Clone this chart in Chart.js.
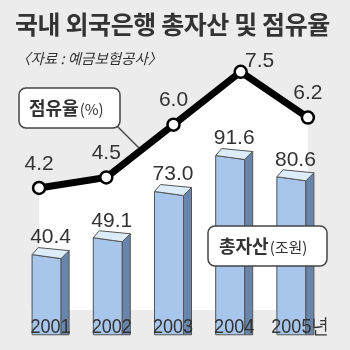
<!DOCTYPE html>
<html>
<head>
<meta charset="utf-8">
<script src="https://cdn.jsdelivr.net/npm/chart.js@4"></script>
<style>
  html, body { margin: 0; padding: 0; background: #ececec; }
  #wrap { position: relative; width: 350px; height: 350px; background: #ececec; }
  #title { position: absolute; left: 15px; top: 5px; font: bold 25px "Noto Sans CJK KR", sans-serif; color: #333; white-space: nowrap; letter-spacing: -0.4px; }
  #source { position: absolute; left: 16px; top: 47px; font: italic 14.5px "Noto Sans CJK KR", sans-serif; color: #333; white-space: nowrap; }
  canvas { position: absolute; left: 0; top: 0; }
</style>
</head>
<body>
<div id="wrap">
  <canvas id="chart" width="350" height="350"></canvas>
  <div id="title">국내 외국은행 총자산 및 점유율</div>
  <div id="source">〈자료 : 예금보험공사〉</div>
</div>
<script>
const years = ['2001', '2002', '2003', '2004', '2005'];
const tickLabels = ['2001', '2002', '2003', '2004', '2005년'];
const assets = [40.4, 49.1, 73.0, 91.6, 80.6];   // 총자산 (조원)
const share = [4.2, 4.5, 6.0, 7.5, 6.2];         // 점유율 (%)

const numFont = '21px "Liberation Sans", Arial, sans-serif';
const textColor = '#333';

// 3D look for the bars
const bar3d = {
    id: 'bar3d',
    afterDatasetDraw(chart, args) {
        if (args.index !== 0) return;
        const ctx = chart.ctx;
        ctx.save();
        ctx.lineWidth = 1;
        ctx.strokeStyle = '#555';
        ctx.lineJoin = 'round';
        args.meta.data.forEach(el => {
            const L = el.x - el.width / 2, R = el.x + el.width / 2;
            const y = el.y, b = el.base;
            const face = (pts, color) => {
                ctx.beginPath();
                pts.forEach((p, i) => i ? ctx.lineTo(p[0], p[1]) : ctx.moveTo(p[0], p[1]));
                ctx.closePath();
                ctx.fillStyle = color;
                ctx.fill();
                ctx.stroke();
            };
            face([[L, y - 2], [R, y + 2], [R, b], [L, b]], '#a8c6ec');
            face([[R, y + 2], [R + 8, y - 6], [R + 8, b], [R, b]], '#6886ad');
            face([[L, y - 2], [L + 6, y - 9], [R + 8, y - 6], [R, y + 2]], '#dcecfa');
        });
        ctx.restore();
    }
};

function roundBox(ctx, x, y, w, h, r) {
    ctx.beginPath();
    ctx.moveTo(x + r, y);
    ctx.arcTo(x + w, y, x + w, y + h, r);
    ctx.arcTo(x + w, y + h, x, y + h, r);
    ctx.arcTo(x, y + h, x, y, r);
    ctx.arcTo(x, y, x + w, y, r);
    ctx.closePath();
    ctx.fillStyle = '#fff';
    ctx.fill();
    ctx.lineWidth = 1.5;
    ctx.strokeStyle = '#444';
    ctx.stroke();
}

function twoPartText(ctx, x, y, main, sub) {
    ctx.textBaseline = 'middle';
    ctx.textAlign = 'left';
    ctx.fillStyle = textColor;
    ctx.font = 'bold 18px "Noto Sans CJK KR", sans-serif';
    ctx.fillText(main, x, y);
    const w = ctx.measureText(main).width;
    ctx.font = '15px "Noto Sans CJK KR", sans-serif';
    ctx.fillText(sub, x + w + 1, y + 1);
}

const labels = {
    id: 'labels',
    afterDraw(chart) {
        const ctx = chart.ctx;
        const barMeta = chart.getDatasetMeta(0);
        const lineMeta = chart.getDatasetMeta(1);
        ctx.save();
        ctx.fillStyle = textColor;
        ctx.font = numFont;
        ctx.textAlign = 'center';
        ctx.textBaseline = 'middle';

        barMeta.data.forEach((el, i) => {
            ctx.fillText(assets[i].toFixed(1), el.x + 4, el.y - 19);
            // year ticks, slightly condensed like the original type
            ctx.save();
            ctx.translate(el.x + 4 + (i === 4 ? 5 : 0), 327);
            ctx.scale(0.86, 1);
            ctx.fillText(tickLabels[i], 0, 0);
            ctx.restore();
        });

        const top = Math.max(...share);
        lineMeta.data.forEach((pt, i) => {
            if (share[i] === top) ctx.fillText(share[i].toFixed(1), pt.x + 19, pt.y - 11);
            else ctx.fillText(share[i].toFixed(1), pt.x, pt.y - 24);
        });

        // leader from the share box to the line
        ctx.strokeStyle = '#444';
        ctx.lineWidth = 1.5;
        ctx.beginPath();
        ctx.moveTo(117, 126);
        ctx.lineTo(139, 148);
        ctx.stroke();

        roundBox(ctx, 19, 88, 101, 40, 7);
        twoPartText(ctx, 29, 108, '점유율', '(%)');

        roundBox(ctx, 208, 226, 119, 40, 7);
        twoPartText(ctx, 219, 246, '총자산', '(조원)');
        ctx.restore();
    }
};

new Chart(document.getElementById('chart'), {
    data: {
        labels: years,
        datasets: [
            {
                type: 'bar',
                data: assets,
                xAxisID: 'x',
                yAxisID: 'yb',
                backgroundColor: '#a8c6ec',
                barThickness: 29,
                grouped: false,
                order: 2
            },
            {
                type: 'line',
                data: share.map((v, i) => ({ x: i, y: v })),
                xAxisID: 'xl',
                yAxisID: 'yl',
                borderColor: '#000',
                borderWidth: 7,
                backgroundColor: '#fff',
                fill: 'start',
                tension: 0,
                pointRadius: 6,
                pointBorderWidth: 2.5,
                pointBackgroundColor: '#fff',
                pointBorderColor: '#000',
                order: 1
            }
        ]
    },
    options: {
        responsive: false,
        animation: false,
        layout: { padding: { left: 16, right: 28, top: 60, bottom: 40 } },
        scales: {
            x: { type: 'category', offset: true, display: false },
            xl: { type: 'linear', min: -0.3435, max: 4.21, display: false },
            yb: { min: 12.8, max: 142, display: false },
            yl: { min: 0.734, max: 7.836, display: false }
        },
        plugins: {
            legend: { display: false },
            tooltip: { enabled: false },
            filler: { drawTime: 'beforeDatasetsDraw' }
        }
    },
    plugins: [bar3d, labels]
});
</script>
</body>
</html>
